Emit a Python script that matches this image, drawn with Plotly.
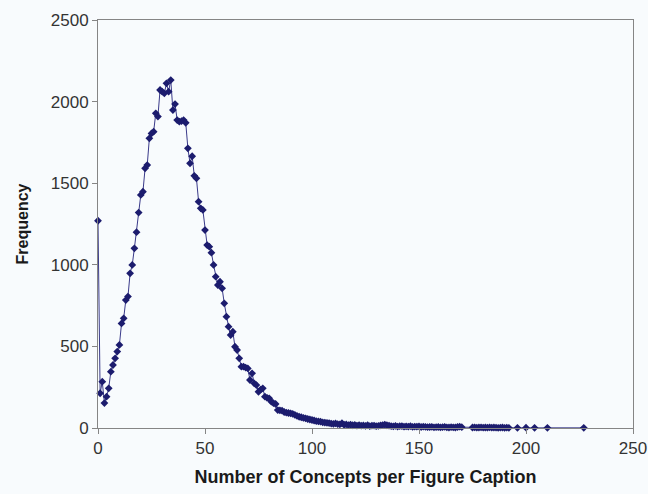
import plotly.graph_objects as go

# Number of concepts per caption (x) and frequency (y)
concepts = list(range(0, 171)) + list(range(175, 193)) + [196, 200, 204, 210, 227]

freq_head = [1270, 213, 284, 153, 192, 243, 345, 386, 427, 468, 509, 641, 672, 784, 805, 948, 999, 1101, 1200,
             1320, 1428, 1448, 1591, 1611, 1775, 1805, 1816, 1928, 1908, 2071, 2061, 2051, 2112, 2061, 2132,
             1948, 1985, 1887, 1877, 1880, 1887, 1870, 1714, 1622, 1665, 1545, 1530, 1387, 1346, 1336,
             1213, 1121, 1111, 1074, 999, 927, 876, 896, 856, 764, 682, 621, 570, 590, 498, 478, 427, 376,
             376, 370, 365, 294, 335, 274, 263, 222, 235, 243, 192, 185, 182, 161, 152, 147, 110, 108, 106,
             98, 94, 92, 90, 86, 80, 74, 69, 66, 62, 59, 55, 52, 49, 46, 42, 40, 39, 35, 33, 32, 30, 27, 25,
             28, 24, 22, 29, 20]
freq_mid = [22, 18, 21, 17, 19, 15, 18, 14, 16, 13, 17, 12, 14, 15, 11, 13, 16, 18, 21, 17, 14, 12, 10, 13,
            9, 11, 12, 8, 10, 9, 11, 7, 9, 8, 10, 6, 8, 7, 5, 6, 7, 4, 5, 6, 4, 5, 7, 4, 3, 5, 4, 3, 6, 8, 5]
freq_tail = [3, 4, 2, 3, 4, 2, 3, 2, 4, 2, 3, 2, 1, 2, 3, 1, 2, 1, 1, 2, 1, 1, 1]
frequency = freq_head + freq_mid + freq_tail

x_ticks = [0, 50, 100, 150, 200, 250]
y_ticks = [0, 500, 1000, 1500, 2000, 2500]

fig = go.Figure()
fig.add_trace(go.Scatter(
    x=concepts, y=frequency, mode="lines+markers",
    line=dict(color="#3a3a8a", width=1),
    marker=dict(symbol="diamond", size=6, color="#1c1c6e"),
    cliponaxis=False, showlegend=False,
))

font_family = "Liberation Sans, Arial, sans-serif"
fig.update_layout(
    width=648, height=494,
    margin=dict(l=98, r=15, t=20, b=66),
    paper_bgcolor="#f8fbfd", plot_bgcolor="#f8fbfd",
    font=dict(family=font_family, size=17, color="#333333"),
)
fig.update_xaxes(
    range=[0, 250], tickvals=x_ticks, ticktext=[str(v) for v in x_ticks],
    showgrid=False, zeroline=False, showline=True, linecolor="#858585", linewidth=1,
    mirror=True, ticks="outside", ticklen=5, tickcolor="#858585", automargin=False,
    title=dict(text="Number of Concepts per Figure Caption", standoff=12,
               font=dict(family=font_family, size=18, weight="bold", color="#1a1a1a")),
)
fig.update_yaxes(
    range=[0, 2500], tickvals=y_ticks, ticktext=[str(v) for v in y_ticks],
    showgrid=False, zeroline=False, showline=True, linecolor="#858585", linewidth=1,
    mirror=True, ticks="outside", ticklen=5, tickcolor="#858585", automargin=False,
    title=dict(text="Frequency", standoff=18,
               font=dict(family=font_family, size=16, weight="bold", color="#1a1a1a")),
)

fig.write_html("out.html", config={"displayModeBar": False},
               post_script="document.body.style.margin='0';")
